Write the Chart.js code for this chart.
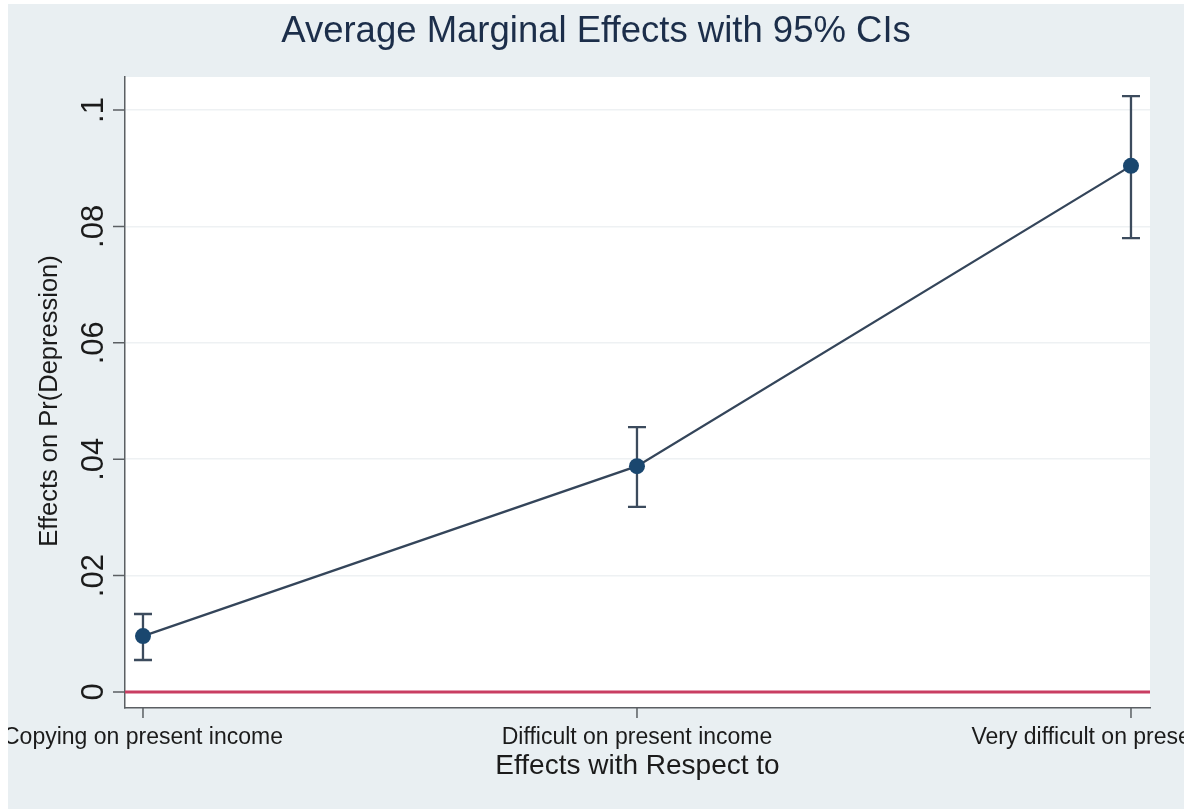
<!DOCTYPE html>
<html>
<head>
<meta charset="utf-8">
<script src="https://cdn.jsdelivr.net/npm/chart.js@4.4.1/dist/chart.umd.min.js"></script>
<style>
  html, body { margin: 0; padding: 0; background: #ffffff; width: 1184px; height: 809px; overflow: hidden; }
  #frame { position: absolute; left: 8px; top: 4px; width: 1176px; height: 805px; background: #e9eff2; overflow: hidden; }
  canvas { display: block; }
</style>
</head>
<body>
<div id="frame"><canvas id="c" width="1176" height="805"></canvas></div>
<script>
// Average marginal effects on Pr(Depression) with 95% confidence intervals
const categories = ['Copying on present income', 'Difficult on present income', 'Very difficult on present income'];
const effects = [0.0096, 0.0388, 0.0904];
const ciLower = [0.0055, 0.0318, 0.0780];
const ciUpper = [0.0134, 0.0455, 0.1024];
const yTickValues = [0, 0.02, 0.04, 0.06, 0.08, 0.1];
const yTickLabels = ['0', '.02', '.04', '.06', '.08', '.1'];
const chartTitle = 'Average Marginal Effects with 95% CIs';
const yAxisTitle = 'Effects on Pr(Depression)';
const xAxisTitle = 'Effects with Respect to';
const referenceLine = 0;

const FONT = '"Liberation Sans", Arial, Helvetica, sans-serif';
const NAVY = '#1a476f';

// White plot region behind the data
const plotRegion = {
  id: 'plotRegion',
  beforeDraw(chart) {
    const { ctx, chartArea: a } = chart;
    ctx.save();
    ctx.fillStyle = '#ffffff';
    ctx.fillRect(a.left, a.top, a.right - a.left, a.bottom - a.top);
    ctx.restore();
  }
};

// Zero reference line and confidence-interval whiskers, drawn under the markers
const intervals = {
  id: 'intervals',
  beforeDatasetsDraw(chart) {
    const { ctx, chartArea: a, scales: { x, y } } = chart;
    ctx.save();
    const y0 = y.getPixelForValue(referenceLine);
    ctx.strokeStyle = '#c93e62';
    ctx.lineWidth = 2.8;
    ctx.beginPath();
    ctx.moveTo(a.left, y0);
    ctx.lineTo(a.right, y0);
    ctx.stroke();

    ctx.strokeStyle = '#3c4b5d';
    ctx.lineWidth = 2.3;
    const cap = 9;
    categories.forEach((_, i) => {
      const px = x.getPixelForValue(i);
      const lo = y.getPixelForValue(ciLower[i]);
      const hi = y.getPixelForValue(ciUpper[i]);
      ctx.beginPath();
      ctx.moveTo(px, lo); ctx.lineTo(px, hi);
      ctx.moveTo(px - cap, lo); ctx.lineTo(px + cap, lo);
      ctx.moveTo(px - cap, hi); ctx.lineTo(px + cap, hi);
      ctx.stroke();
    });
    ctx.restore();
  }
};

// Tick marks, rotated y labels, category labels and titles
const annotations = {
  id: 'annotations',
  afterDraw(chart) {
    const { ctx, chartArea: a, scales: { x, y } } = chart;
    ctx.save();
    ctx.strokeStyle = '#5b5f63';
    ctx.lineWidth = 1.5;
    ctx.beginPath();
    yTickValues.forEach(v => {
      const py = y.getPixelForValue(v);
      ctx.moveTo(a.left - 12, py); ctx.lineTo(a.left, py);
    });
    categories.forEach((_, i) => {
      const px = x.getPixelForValue(i);
      ctx.moveTo(px, a.bottom); ctx.lineTo(px, a.bottom + 10);
    });
    ctx.stroke();

    ctx.fillStyle = '#1b1b1b';
    ctx.textAlign = 'center';
    ctx.textBaseline = 'alphabetic';

    ctx.font = '31px ' + FONT;
    yTickValues.forEach((v, i) => {
      ctx.save();
      ctx.translate(a.left - 22, y.getPixelForValue(v));
      ctx.rotate(-Math.PI / 2);
      ctx.fillText(yTickLabels[i], 0, 0);
      ctx.restore();
    });

    ctx.font = '23px ' + FONT;
    categories.forEach((c, i) => {
      ctx.fillText(c, x.getPixelForValue(i), a.bottom + 36);
    });

    ctx.font = '28px ' + FONT;
    ctx.fillText(xAxisTitle, (a.left + a.right) / 2, a.bottom + 66);

    ctx.save();
    ctx.font = '25.5px ' + FONT;
    ctx.translate(49, 397);
    ctx.rotate(-Math.PI / 2);
    ctx.fillText(yAxisTitle, 0, 0);
    ctx.restore();

    ctx.fillStyle = '#1c2e4a';
    ctx.font = '36.5px ' + FONT;
    ctx.fillText(chartTitle, 588, 38);
    ctx.restore();
  }
};

new Chart(document.getElementById('c').getContext('2d'), {
  type: 'line',
  data: {
    datasets: [{
      data: effects.map((v, i) => ({ x: i, y: v })),
      borderColor: '#34455a',
      borderWidth: 2.3,
      pointRadius: 8,
      pointBackgroundColor: NAVY,
      pointBorderColor: NAVY,
      pointBorderWidth: 0,
      tension: 0,
      fill: false
    }]
  },
  options: {
    responsive: false,
    animation: false,
    devicePixelRatio: 1,
    layout: { padding: { left: 117, right: 34, top: 73, bottom: 101 } },
    plugins: { legend: { display: false }, tooltip: { enabled: false }, title: { display: false } },
    scales: {
      x: {
        type: 'linear', min: -0.0364, max: 2.0385,
        ticks: { display: false },
        grid: { display: false, drawTicks: false },
        border: { display: true, color: '#5b5f63', width: 1.5 }
      },
      y: {
        type: 'linear', min: -0.00275, max: 0.10567,
        afterBuildTicks: s => { s.ticks = yTickValues.map(v => ({ value: v })); },
        ticks: { display: false },
        grid: { color: '#eef1f3', lineWidth: 1.5, drawTicks: false },
        border: { display: true, color: '#5b5f63', width: 1.5 }
      }
    }
  },
  plugins: [plotRegion, intervals, annotations]
});
</script>
</body>
</html>
